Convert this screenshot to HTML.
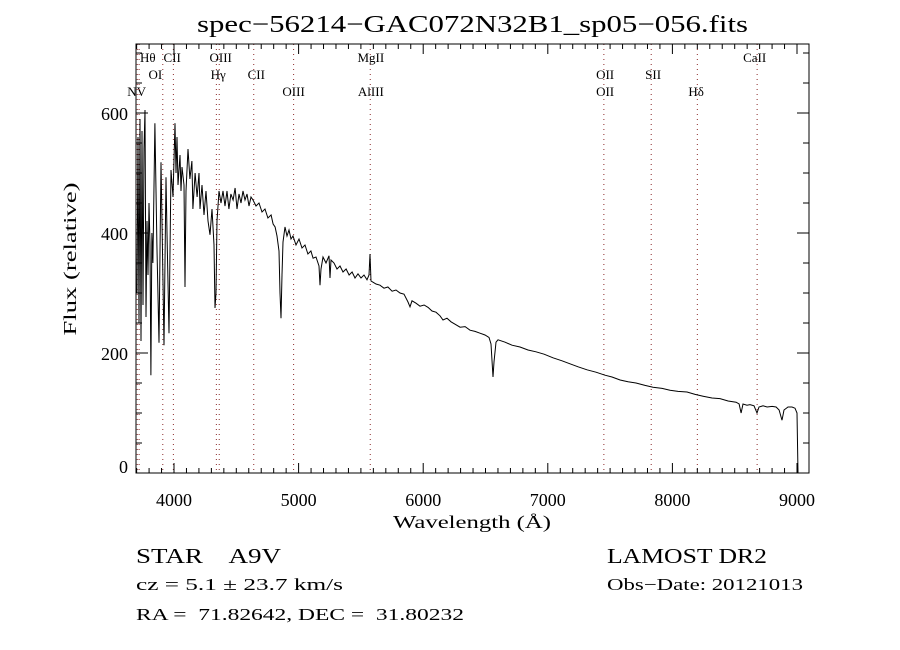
<!DOCTYPE html>
<html><head><meta charset="utf-8"><style>
html,body{margin:0;padding:0;background:#fff;}
svg{display:block;}
text{font-family:"Liberation Serif","DejaVu Serif",serif;fill:#000;white-space:pre;}
</style></head><body>
<svg id="chart" width="900" height="650" viewBox="0 0 900 650" xml:space="preserve">
<text x="197" y="32" font-size="24" textLength="551" lengthAdjust="spacingAndGlyphs">spec−56214−GAC072N32B1_sp05−056.fits</text>
<g id="lines"></g>
<g id="ticks"></g>
<path id="spec" fill="none" stroke="#000" stroke-width="1"></path>
<rect x="136" y="44" width="673" height="429" fill="none" stroke="#000" stroke-width="1"></rect>
<text x="472" y="528" font-size="18" text-anchor="middle" textLength="158" lengthAdjust="spacingAndGlyphs">Wavelength (Å)</text>
<text transform="translate(76,259) rotate(-90)" font-size="18" text-anchor="middle" textLength="153" lengthAdjust="spacingAndGlyphs">Flux (relative)</text>
<text x="136" y="563" font-size="21" textLength="145" lengthAdjust="spacingAndGlyphs">STAR    A9V</text>
<text x="136" y="590" font-size="17" textLength="207" lengthAdjust="spacingAndGlyphs">cz = 5.1 ± 23.7 km/s</text>
<text x="136" y="620" font-size="17" textLength="328" lengthAdjust="spacingAndGlyphs">RA =  71.82642, DEC =  31.80232</text>
<text x="607" y="563" font-size="21" textLength="160" lengthAdjust="spacingAndGlyphs">LAMOST DR2</text>
<text x="607" y="590" font-size="17" textLength="196" lengthAdjust="spacingAndGlyphs">Obs−Date: 20121013</text>
</svg>
<script>
const wavelengths=[3703,3711,3719,3727,3735,3743,3751,3759,3767,3775,3783,3791,3799,3807,3815,3823,3831,3847,3863,3880,3896,3904,3920,3936,3944,3960,3976,3992,4008,4016,4024,4032,4048,4056,4064,4080,4088,4096,4112,4128,4144,4152,4169,4185,4201,4209,4225,4241,4257,4273,4289,4305,4321,4329,4337,4345,4361,4377,4393,4409,4425,4441,4457,4474,4490,4506,4522,4538,4554,4570,4586,4602,4618,4634,4658,4682,4706,4730,4754,4779,4795,4811,4827,4843,4851,4859,4867,4875,4891,4907,4923,4939,4955,4979,5003,5027,5051,5075,5099,5116,5140,5164,5172,5180,5196,5220,5244,5252,5260,5284,5308,5332,5356,5381,5405,5429,5453,5477,5501,5525,5549,5565,5573,5581,5597,5621,5653,5685,5717,5750,5782,5814,5846,5878,5894,5910,5942,5974,6007,6039,6071,6103,6135,6159,6191,6223,6255,6296,6336,6376,6416,6456,6496,6528,6544,6560,6568,6584,6600,6657,6713,6777,6841,6905,6970,7042,7114,7178,7243,7315,7387,7459,7515,7580,7644,7708,7780,7844,7917,7981,8045,8117,8182,8246,8318,8382,8447,8511,8535,8551,8567,8599,8623,8655,8679,8695,8727,8760,8800,8832,8856,8880,8896,8928,8960,8984,9000,9008];
const fluxes=[300,560,250,590,220,570,280,540,605,260,420,330,450,380,163,400,350,583,380,217,518,420,213,493,400,233,505,460,583,500,560,480,530,470,510,480,310,470,540,490,520,440,500,460,500,440,480,430,470,420,397,440,380,275,300,420,470,450,470,445,470,440,465,455,475,440,465,450,470,455,465,445,460,455,445,450,435,440,425,430,415,410,395,370,300,258,330,385,410,395,405,390,395,380,390,375,380,365,370,358,360,345,313,340,360,350,362,325,355,350,340,345,335,340,330,335,325,332,325,330,322,330,365,320,318,315,313,308,310,303,305,300,298,285,277,287,283,278,280,276,270,268,262,255,258,252,248,243,244,238,236,233,230,226,215,160,185,218,222,218,213,210,205,202,198,192,187,182,177,172,168,163,160,155,152,150,146,143,141,138,136,135,131,128,125,124,120,118,115,100,115,113,114,112,100,110,112,110,111,110,105,88,105,110,110,108,100,0];
const xTickLabels=["4000","5000","6000","7000","8000","9000"];
const yTickLabels=["0","200","400","600"];
const lineNames=["NV","Hθ","OI","CII","Hγ","OIII","CII","OIII","MgII","AlIII","OII","OII","SII","Hδ","CaII"];
const lineWaves=[3705,3720,3910,3995,4340,4363,4640,4960,5575,5575,7450,7450,7830,8200,8680];
const lineRows=[3,1,2,1,2,1,2,3,1,3,2,3,2,3,1];
const lineLabelWaves=[3700,3790,3850,3985,4355,4375,4660,4960,5580,5580,7460,7460,7845,8190,8660];

const NS='http://www.w3.org/2000/svg';
const X0=136,X1=809,Y0=473,Y1=44;
const xScale=w=>174+(w-4000)*0.1246;
const yScale=f=>473-f*0.6;
let d='';
wavelengths.forEach((w,i)=>{d+=(i?'L':'M')+xScale(w).toFixed(1)+' '+yScale(fluxes[i]).toFixed(1);});
document.getElementById('spec').setAttribute('d',d);

const lg=document.getElementById('lines');
const drawn={};
lineWaves.forEach((w,i)=>{
  const x=xScale(w);
  if(!drawn[w]){drawn[w]=1;
    const l=document.createElementNS(NS,'line');
    l.setAttribute('x1',x);l.setAttribute('x2',x);l.setAttribute('y1',Y1);l.setAttribute('y2',Y0);
    l.setAttribute('stroke','#8b2a2a');l.setAttribute('stroke-width','1');l.setAttribute('stroke-dasharray','1 4');
    
    
    lg.appendChild(l);}
  const t=document.createElementNS(NS,'text');
  t.setAttribute('x',xScale(lineLabelWaves[i]));
  t.setAttribute('y',62+(lineRows[i]-1)*17);
  t.setAttribute('font-size','13');
  t.setAttribute('text-anchor','middle');
  t.textContent=lineNames[i];
  
  
  lg.appendChild(t);
});

const tg=document.getElementById('ticks');
function tick(x1,y1,x2,y2){
  const l=document.createElementNS(NS,'line');
  l.setAttribute('x1',x1);l.setAttribute('y1',y1);l.setAttribute('x2',x2);l.setAttribute('y2',y2);
  l.setAttribute('stroke','#000');l.setAttribute('stroke-width','1');
  
  
  tg.appendChild(l);
}
for(let w=3700;w<=9000;w+=100){
  const x=xScale(w);const maj=w%1000===0;const L=maj?10:5;
  tick(x,Y0,x,Y0-L);tick(x,Y1,x,Y1+L);
}
for(let f=0;f<=700;f+=50){
  const y=yScale(f);const maj=f%200===0;const L=maj?12:6;
  tick(X0,y,X0+L,y);tick(X1,y,X1-L,y);
}
xTickLabels.forEach(s=>{
  const t=document.createElementNS(NS,'text');
  t.setAttribute('x',xScale(+s));t.setAttribute('y',506);
  t.setAttribute('font-size','18');t.setAttribute('text-anchor','middle');
  t.setAttribute('font-family','Liberation Sans, sans-serif');
  t.textContent=s;
  
  
  tg.appendChild(t);
});
yTickLabels.forEach(s=>{
  const t=document.createElementNS(NS,'text');
  t.setAttribute('x',128);t.setAttribute('y',yScale(+s)+(s==='0'?0:7));
  t.setAttribute('font-size','18');t.setAttribute('text-anchor','end');
  t.setAttribute('font-family','Liberation Sans, sans-serif');
  t.textContent=s;
  
  
  tg.appendChild(t);
});
</script>
</body></html>
